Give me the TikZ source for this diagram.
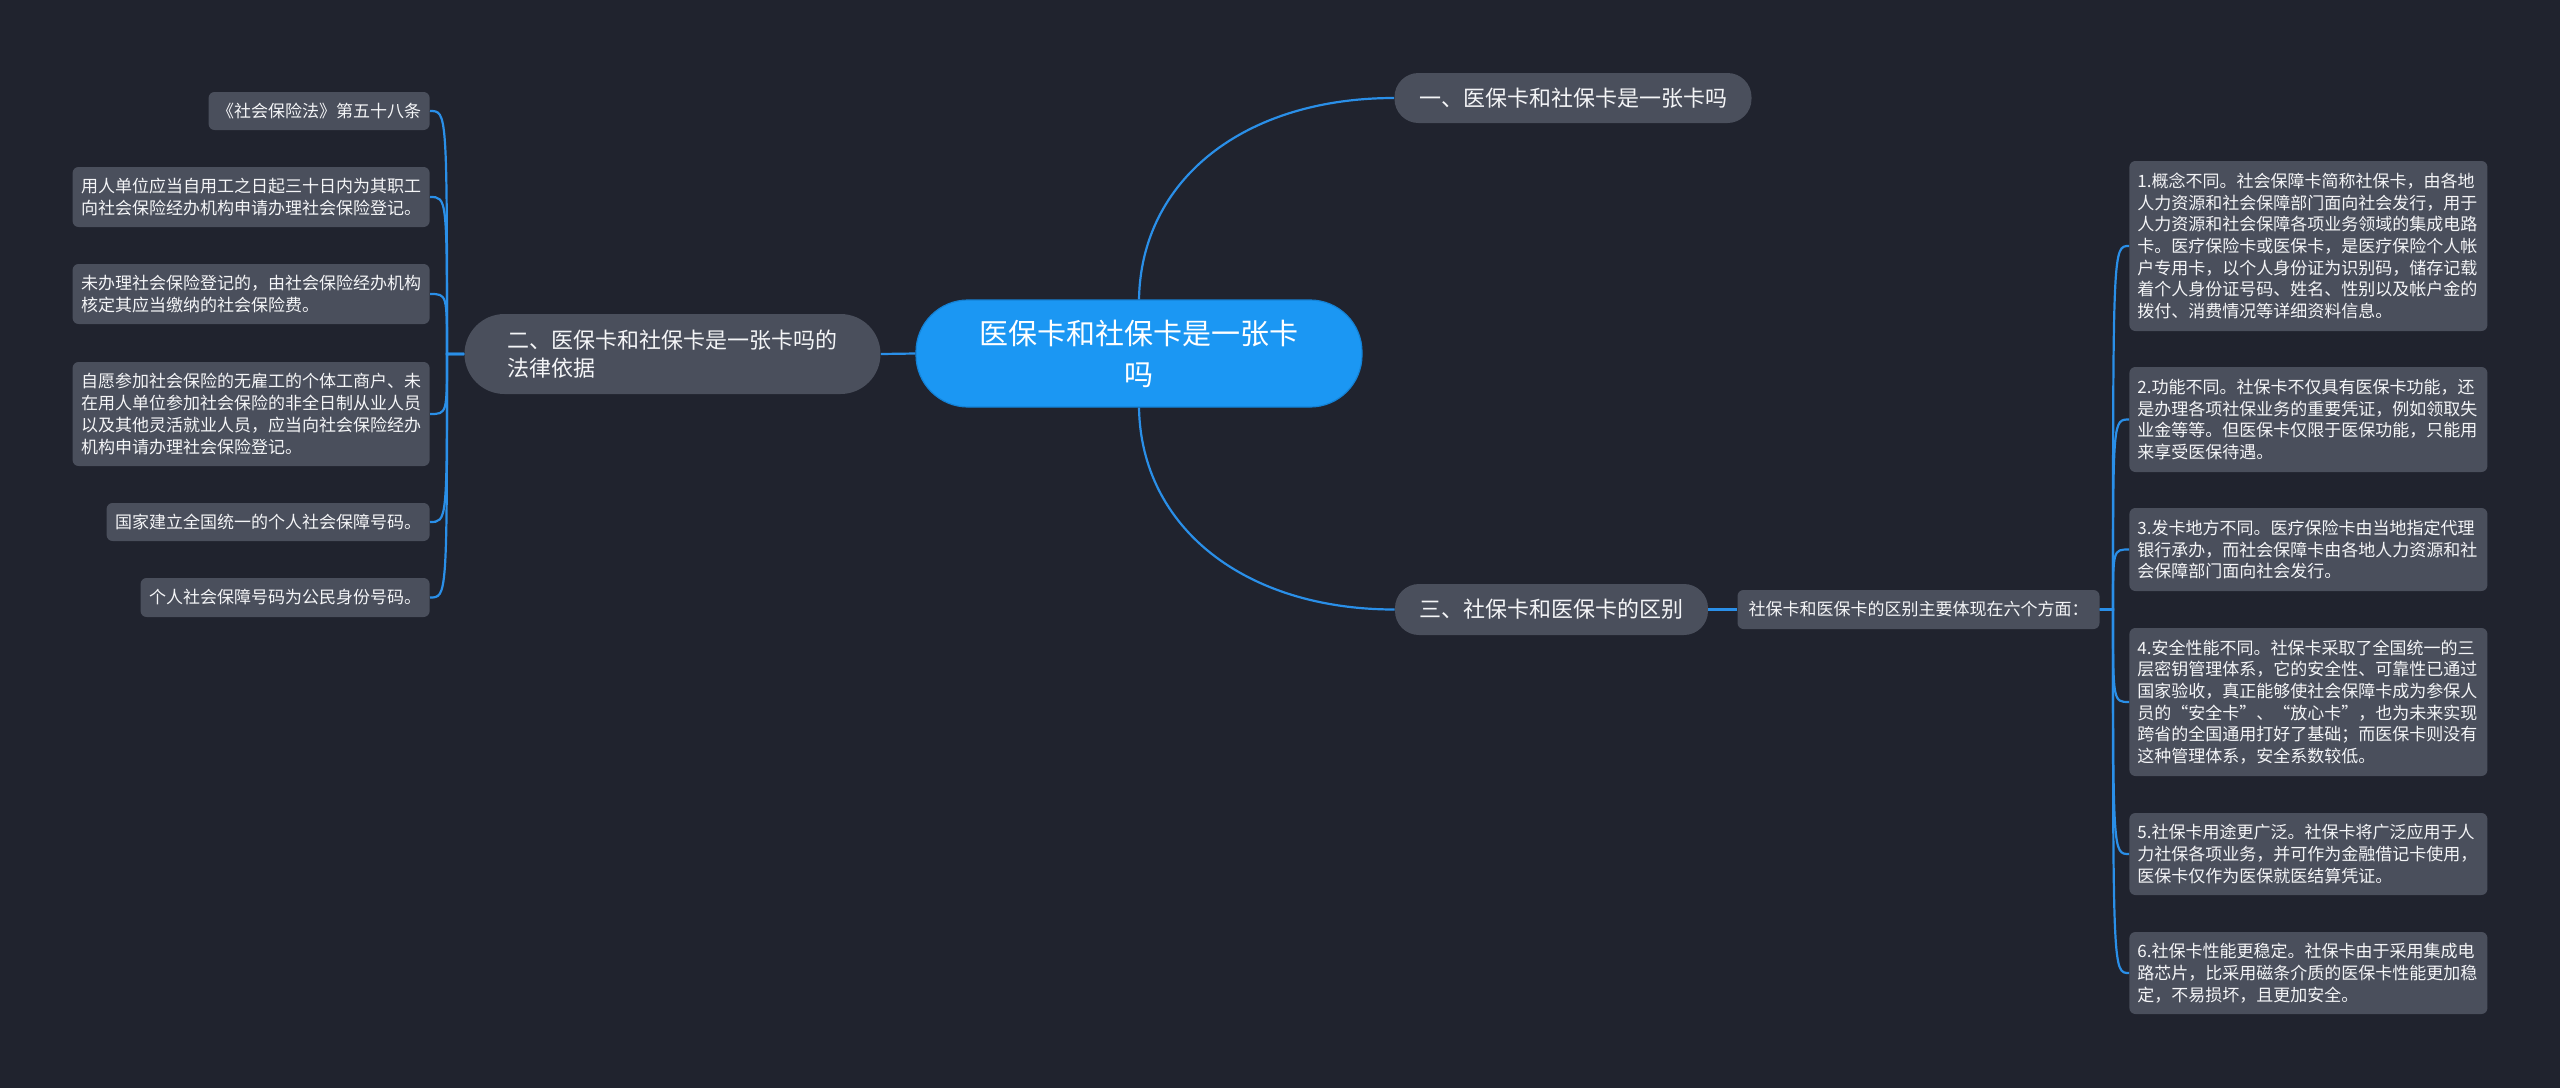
\documentclass[tikz,border=0pt]{standalone}
\usepackage{fontspec}
\setmainfont{Noto Sans CJK SC}
\definecolor{bgc}{HTML}{20232E}
\definecolor{boxc}{HTML}{4A4F5C}
\definecolor{rootc}{HTML}{1B97F3}
\definecolor{rootd}{HTML}{1482D6}
\definecolor{linec}{HTML}{2A8FE8}
\definecolor{txtc}{HTML}{F4F5F7}
\newcommand{\leaffont}{\fontsize{8.5pt}{10.85pt}\selectfont}
\newcommand{\topfont}{\fontsize{11pt}{14pt}\selectfont}
\newcommand{\rootfont}{\fontsize{14.5pt}{20.5pt}\selectfont}
\tikzset{
  leaf/.style={fill=boxc, text=txtc, rounded corners=3pt, font=\leaffont, align=left,
    inner xsep=4.25pt, inner ysep=0pt, minimum height=#1},
  rleaf/.style={leaf=#1, text width=171pt, inner xsep=4pt},
  topnode/.style={fill=boxc, text=txtc, rounded corners=12pt, font=\topfont, align=left,
    inner xsep=12.25pt, inner ysep=0pt, minimum height=25pt},
  rootnode/.style={fill=rootc, draw=rootd, line width=0.6pt, text=white, rounded corners=26pt,
    font=\rootfont, align=center, minimum width=223pt, minimum height=53.5pt},
  conn/.style={draw=linec, line width=1.1pt}
}
\begin{document}
\begin{tikzpicture}[x=0.5pt,y=-0.5pt]
\fill[bgc] (0,0) rectangle (2560,1088);
\useasboundingbox (0,0) rectangle (2560,1088);

% central and main branches
\node[rootnode] (root) at (1139,353.5) {医保卡和社保卡是一张卡\\吗};
\node[topnode] (n1) at (1573,98) {一、医保卡和社保卡是一张卡吗};
\node[topnode, minimum height=40pt, rounded corners=20pt, inner xsep=21.5pt] (n2) at (672.5,354)
  {二、医保卡和社保卡是一张卡吗的\\法律依据};
\node[topnode, minimum height=25.5pt] (n3) at (1551.5,609.5) {三、社保卡和医保卡的区别};
\node[leaf=19.5pt, inner xsep=5.5pt] (sub) at (1918.5,609.5) {社保卡和医保卡的区别主要体现在六个方面：};

% left leaves
\node[leaf=19pt, anchor=east] (l1) at (430,111) {《社会保险法》第五十八条};
\node[leaf=30pt, anchor=east] (l2) at (430,197) {用人单位应当自用工之日起三十日内为其职工\\向社会保险经办机构申请办理社会保险登记。};
\node[leaf=30pt, anchor=east] (l3) at (430,294) {未办理社会保险登记的，由社会保险经办机构\\核定其应当缴纳的社会保险费。};
\node[leaf=52pt, anchor=east] (l4) at (430,414) {自愿参加社会保险的无雇工的个体工商户、未\\在用人单位参加社会保险的非全日制从业人员\\以及其他灵活就业人员，应当向社会保险经办\\机构申请办理社会保险登记。};
\node[leaf=19pt, anchor=east] (l5) at (430,522) {国家建立全国统一的个人社会保障号码。};
\node[leaf=19.5pt, anchor=east] (l6) at (430,597.5) {个人社会保障号码为公民身份号码。};

% right leaves
\node[rleaf=85pt, anchor=west] (r1) at (2129,246) {1.概念不同。社会保障卡简称社保卡，由各地\\人力资源和社会保障部门面向社会发行，用于\\人力资源和社会保障各项业务领域的集成电路\\卡。医疗保险卡或医保卡，是医疗保险个人帐\\户专用卡，以个人身份证为识别码，储存记载\\着个人身份证号码、姓名、性别以及帐户金的\\拨付、消费情况等详细资料信息。};
\node[rleaf=52.5pt, anchor=west] (r2) at (2129,419.5) {2.功能不同。社保卡不仅具有医保卡功能，还\\是办理各项社保业务的重要凭证，例如领取失\\业金等等。但医保卡仅限于医保功能，只能用\\来享受医保待遇。};
\node[rleaf=41.5pt, anchor=west] (r3) at (2129,549.5) {3.发卡地方不同。医疗保险卡由当地指定代理\\银行承办，而社会保障卡由各地人力资源和社\\会保障部门面向社会发行。};
\node[rleaf=74pt, anchor=west] (r4) at (2129,702) {4.安全性能不同。社保卡采取了全国统一的三\\层密钥管理体系，它的安全性、可靠性已通过\\国家验收，真正能够使社会保障卡成为参保人\\员的“安全卡”、“放心卡”，也为未来实现\\跨省的全国通用打好了基础；而医保卡则没有\\这种管理体系，安全系数较低。};
\node[rleaf=41pt, anchor=west] (r5) at (2129,854) {5.社保卡用途更广泛。社保卡将广泛应用于人\\力社保各项业务，并可作为金融借记卡使用，\\医保卡仅作为医保就医结算凭证。};
\node[rleaf=41pt, anchor=west] (r6) at (2129,973) {6.社保卡性能更稳定。社保卡由于采用集成电\\路芯片，比采用磁条介质的医保卡性能更加稳\\定，不易损坏，且更加安全。};

% spine coordinates
\coordinate (ls) at (447,354);
\coordinate (rs) at (2113,609.5);

% connectors from root
\draw[conn] (root.north) .. controls +(2,-120) and +(-150,0) .. (n1.west);
\draw[conn] (root.south) .. controls +(2,120) and +(-150,0) .. (n3.west);
\draw[conn] (root.west) -- (n2.east);
\draw[conn] (n3.east) -- (sub.west);

% left spine
\foreach \c in {l1,l2,l3,l4,l5,l6}{
  \draw[conn] (n2.west) -- (ls) .. controls (ls |- \c.east) and (ls |- \c.east) .. (\c.east);
}
% right spine
\foreach \c in {r1,r2,r3,r4,r5,r6}{
  \draw[conn] (sub.east) -- (rs) .. controls (rs |- \c.west) and (rs |- \c.west) .. (\c.west);
}
\end{tikzpicture}
\end{document}
